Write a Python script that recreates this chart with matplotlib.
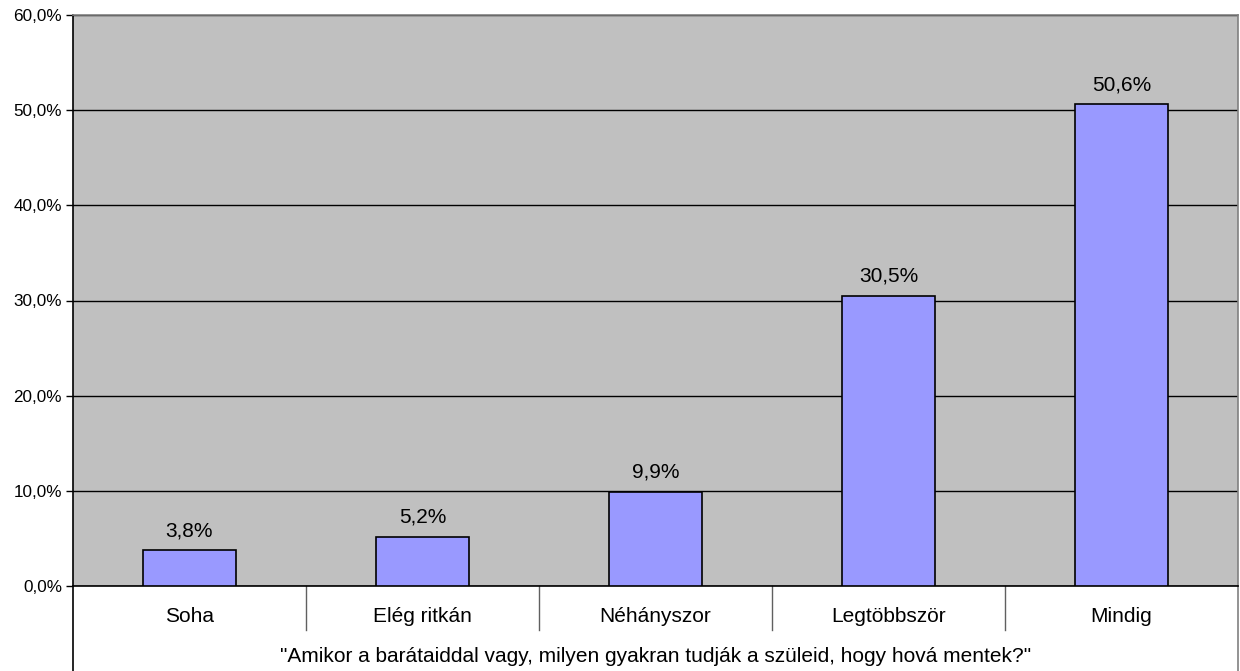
import matplotlib
matplotlib.use("Agg")
import matplotlib.pyplot as plt
from matplotlib.ticker import FuncFormatter, MultipleLocator

plt.rcParams['font.family'] = ['Liberation Sans', 'DejaVu Sans']

categories = ["Soha", "Elég ritkán", "Néhányszor", "Legtöbbször", "Mindig"]
values = [3.8, 5.2, 9.9, 30.5, 50.6]
axis_title = '"Amikor a barátaiddal vagy, milyen gyakran tudják a szüleid, hogy hová mentek?"'

W, H = 1240, 671
fig = plt.figure(figsize=(W / 100, H / 100), dpi=100)
fig.patch.set_facecolor("white")

left, right, top, bottom = 73, 1238, 15, 586
ax = fig.add_axes([left / W, (H - bottom) / H, (right - left) / W, (bottom - top) / H])
ax.set_facecolor("#C0C0C0")

n = len(categories)
xs = list(range(n))
ax.bar(xs, values, width=0.4, color="#9999FF", edgecolor="black", linewidth=1.2, zorder=3)
for x, v in zip(xs, values):
    ax.text(x, v + 1.45, f"{v:.1f}%".replace(".", ","), ha="center", va="baseline",
            fontsize=15, color="black", zorder=4)

ax.set_xlim(-0.5, n - 0.5)
ax.set_ylim(0, 60)
ax.yaxis.set_major_locator(MultipleLocator(10))
ax.yaxis.set_major_formatter(FuncFormatter(lambda v, p: f"{v:.1f}%".replace(".", ",")))
ax.grid(axis="y", color="black", linewidth=1.0, zorder=1)
ax.set_xticks([])
ax.tick_params(axis="y", length=5, width=1, labelsize=12.3, pad=3, direction="out")

for s in ["top", "right"]:
    ax.spines[s].set_color("#808080")
    ax.spines[s].set_linewidth(1.2)
ax.spines["left"].set_color("black")
ax.spines["left"].set_linewidth(1.2)
ax.spines["bottom"].set_color("black")
ax.spines["bottom"].set_linewidth(1.2)

# category table below the axis
depth = (H - bottom) / (bottom - top)   # lower area in axes-fraction units
sep_depth = (630 - bottom) / (bottom - top)
trans = ax.transAxes
ax.plot([0, 0], [0, -depth], color="black", lw=1.2, transform=trans, clip_on=False)
ax.plot([1, 1], [0, -depth], color="#808080", lw=1.2, transform=trans, clip_on=False)
for i in range(1, n):
    xf = i / n
    ax.plot([xf, xf], [0, -sep_depth], color="#606060", lw=1.0, transform=trans, clip_on=False)
for i, c in enumerate(categories):
    ax.text((i + 0.5) / n, -(617 - bottom) / (bottom - top), c, ha="center", va="center",
            fontsize=15, transform=trans)
ax.text(0.5, -(657 - bottom) / (bottom - top), axis_title, ha="center", va="center",
        fontsize=15, transform=trans)

fig.savefig("out.png", dpi=100)
